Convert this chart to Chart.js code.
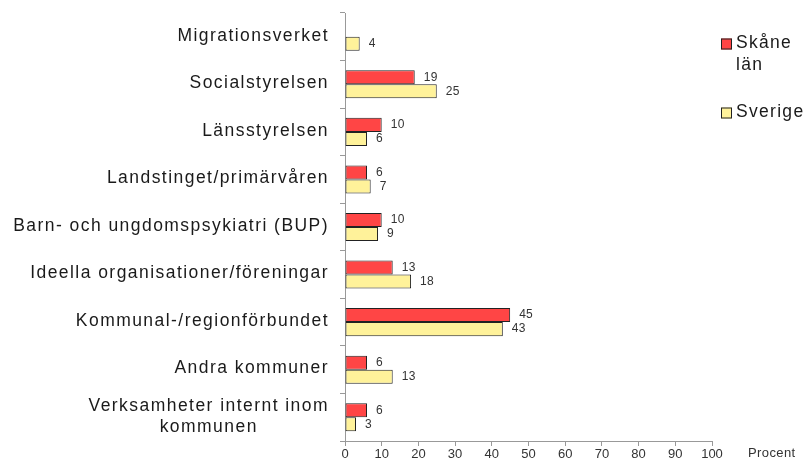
<!DOCTYPE html>
<html>
<head>
<meta charset="utf-8">
<script src="https://cdn.jsdelivr.net/npm/chart.js@4"></script>
<style>
  html, body { margin: 0; padding: 0; background: #fff; }
  #wrap { width: 806px; height: 461px; position: relative; }
</style>
</head>
<body>
<div id="wrap"><canvas id="chart"></canvas></div>
<script>
const categories = [
  'Migrationsverket',
  'Socialstyrelsen',
  'Länsstyrelsen',
  'Landstinget/primärvåren',
  'Barn- och ungdomspsykiatri (BUP)',
  'Ideella organisationer/föreningar',
  'Kommunal-/regionförbundet',
  'Andra kommuner',
  ['Verksamheter internt inom', 'kommunen']
];
const skane = [null, 19, 10, 6, 10, 13, 45, 6, 6];
const sverige = [4, 25, 6, 7, 9, 18, 43, 13, 3];
const seriesNames = [['Skåne', 'län'], ['Sverige']];
const axisTitle = 'Procent';

const FONT = "'Liberation Sans', Arial, sans-serif";
const RED = '#ff4545';
const YELLOW = '#fff29a';

// category labels, legend, value labels and axis title
const extras = {
  id: 'extras',
  afterDraw(chart) {
    const ctx = chart.ctx;
    const y = chart.scales.y;
    ctx.save();
    ctx.fillStyle = '#1a1a1a';
    ctx.font = '17.5px ' + FONT;
    ctx.letterSpacing = '1.45px';
    ctx.textBaseline = 'middle';
    ctx.textAlign = 'left';
    categories.forEach((lab, i) => {
      const lines = Array.isArray(lab) ? lab : [lab];
      const widths = lines.map(l => ctx.measureText(l).width);
      const maxW = Math.max(...widths);
      const cx = 329 - maxW / 2;
      const cy = y.getPixelForValue(i) - 1;
      const lh = 21;
      lines.forEach((l, k) => {
        ctx.fillText(l, cx - widths[k] / 2, cy + (k - (lines.length - 1) / 2) * lh);
      });
    });

    // legend
    ctx.letterSpacing = '1.3px';
    const colors = [RED, YELLOW];
    const legendY = [44, 113];
    seriesNames.forEach((name, i) => {
      ctx.fillStyle = colors[i];
      ctx.strokeStyle = '#222';
      ctx.lineWidth = 1;
      ctx.fillRect(721, legendY[i] - 5.5, 11, 11);
      ctx.strokeRect(721.5, legendY[i] - 5, 10, 10);
      ctx.fillStyle = '#1a1a1a';
      name.forEach((t, k) => ctx.fillText(t, 736, legendY[i] - 1 + k * 22));
    });

    // axis title
    ctx.font = '13px ' + FONT;
    ctx.letterSpacing = '0.4px';
    ctx.fillStyle = '#333';
    ctx.fillText(axisTitle, 748, 453);

    // value labels
    ctx.font = '12px ' + FONT;
    ctx.letterSpacing = '0.3px';
    chart.data.datasets.forEach((ds, di) => {
      const meta = chart.getDatasetMeta(di);
      meta.data.forEach((el, i) => {
        if (ds.data[i] == null) return;
        ctx.fillText(String(ds.data[i]), el.x + 9, el.y);
      });
    });
    ctx.restore();
  }
};

new Chart(document.getElementById('chart'), {
  type: 'bar',
  data: {
    labels: categories,
    datasets: [
      {
        label: 'Skåne län',
        data: skane,
        backgroundColor: RED,
        borderColor: '#222',
        borderWidth: 1,
        borderSkipped: false
      },
      {
        label: 'Sverige',
        data: sverige,
        backgroundColor: YELLOW,
        borderColor: '#222',
        borderWidth: 1,
        borderSkipped: false
      }
    ]
  },
  options: {
    indexAxis: 'y',
    responsive: true,
    maintainAspectRatio: false,
    animation: false,
    layout: { padding: { top: 13, right: 94, left: 0, bottom: 0 } },
    datasets: {
      bar: { categoryPercentage: 0.59, barPercentage: 1 }
    },
    plugins: {
      legend: { display: false },
      tooltip: { enabled: false }
    },
    scales: {
      x: {
        min: 0,
        max: 100,
        ticks: {
          stepSize: 10,
          color: '#333',
          font: { family: FONT, size: 13 },
          padding: 1,
          maxRotation: 0
        },
        grid: {
          drawOnChartArea: false,
          drawTicks: true,
          tickLength: 5,
          color: '#999'
        },
        border: { display: true, color: '#999', width: 1 },
        afterFit(scale) { scale.height = 20; }
      },
      y: {
        ticks: { display: false },
        grid: {
          offset: true,
          drawOnChartArea: false,
          drawTicks: true,
          tickLength: 5,
          color: '#999'
        },
        border: { display: true, color: '#999', width: 1 },
        afterFit(scale) { scale.width = 345; }
      }
    }
  },
  plugins: [extras]
});
</script>
</body>
</html>
